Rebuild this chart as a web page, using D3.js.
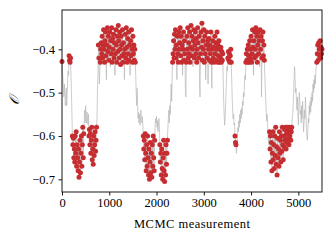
<!DOCTYPE html>
<html>
<head>
<meta charset="utf-8">
<script src="https://cdn.jsdelivr.net/npm/d3@7"></script>
<style>
  body { margin: 0; background: #fff; }
  text { font-family: "Liberation Serif", serif; fill: #000; }
</style>
</head>
<body>
<svg id="chart" width="332" height="240"></svg>
<script>
var sampleStep = 10;
var traceValues = [
  -0.428, -0.45, -0.47, -0.49, -0.51, -0.48, -0.50, -0.53, -0.52, -0.49,
  -0.53, -0.50, -0.47, -0.45, -0.46, -0.415, -0.425, -0.43, -0.42, -0.46,
  -0.50, -0.55, -0.60, -0.62, -0.605, -0.65, -0.63, -0.66, -0.60, -0.64,
  -0.59, -0.67, -0.62, -0.65, -0.68, -0.63, -0.695, -0.66, -0.61, -0.685,
  -0.64, -0.60, -0.67, -0.62, -0.58, -0.65, -0.595, -0.56, -0.54, -0.57,
  -0.53, -0.555, -0.57, -0.545, -0.56, -0.575, -0.55, -0.60, -0.585, -0.62,
  -0.595, -0.64, -0.61, -0.58, -0.655, -0.63, -0.665, -0.60, -0.645, -0.62,
  -0.59, -0.635, -0.61, -0.58, -0.56, -0.50, -0.46, -0.39, -0.42, -0.48,
  -0.45, -0.43, -0.40, -0.385, -0.41, -0.37, -0.42, -0.39, -0.355, -0.40,
  -0.43, -0.38, -0.36, -0.415, -0.47, -0.39, -0.35, -0.405, -0.37, -0.425,
  -0.395, -0.36, -0.44, -0.38, -0.41, -0.35, -0.43, -0.375, -0.40, -0.365,
  -0.42, -0.385, -0.46, -0.41, -0.355, -0.39, -0.43, -0.37, -0.405, -0.345,
  -0.38, -0.42, -0.36, -0.40, -0.435, -0.37, -0.39, -0.415, -0.355, -0.43,
  -0.385, -0.41, -0.47, -0.40, -0.365, -0.42, -0.35, -0.395, -0.43, -0.375,
  -0.41, -0.36, -0.425, -0.39, -0.46, -0.38, -0.415, -0.355, -0.40, -0.43,
  -0.37, -0.41, -0.39, -0.425, -0.40, -0.43, -0.46, -0.50, -0.53, -0.49,
  -0.53, -0.56, -0.545, -0.57, -0.55, -0.575, -0.56, -0.54, -0.565, -0.57,
  -0.555, -0.575, -0.60, -0.63, -0.61, -0.655, -0.595, -0.64, -0.68, -0.62,
  -0.67, -0.60, -0.65, -0.69, -0.63, -0.70, -0.66, -0.615, -0.685, -0.64,
  -0.695, -0.62, -0.67, -0.60, -0.65, -0.68, -0.61, -0.575, -0.56, -0.57,
  -0.555, -0.58, -0.565, -0.59, -0.57, -0.56, -0.575, -0.62, -0.66, -0.64,
  -0.69, -0.63, -0.675, -0.70, -0.65, -0.61, -0.68, -0.705, -0.64, -0.69,
  -0.62, -0.665, -0.64, -0.61, -0.58, -0.56, -0.54, -0.57, -0.53, -0.55,
  -0.51, -0.48, -0.52, -0.46, -0.43, -0.41, -0.38, -0.42, -0.365, -0.40,
  -0.355, -0.42, -0.39, -0.47, -0.37, -0.41, -0.43, -0.36, -0.40, -0.385,
  -0.35, -0.415, -0.37, -0.43, -0.39, -0.46, -0.40, -0.36, -0.425, -0.38,
  -0.41, -0.49, -0.51, -0.43, -0.37, -0.40, -0.35, -0.42, -0.385, -0.41,
  -0.36, -0.43, -0.395, -0.345, -0.415, -0.37, -0.40, -0.44, -0.38, -0.355,
  -0.42, -0.39, -0.36, -0.41, -0.375, -0.43, -0.40, -0.35, -0.385, -0.42,
  -0.37, -0.48, -0.51, -0.41, -0.36, -0.395, -0.34, -0.425, -0.38, -0.40,
  -0.355, -0.43, -0.37, -0.41, -0.47, -0.39, -0.36, -0.42, -0.38, -0.48,
  -0.40, -0.375, -0.425, -0.39, -0.41, -0.36, -0.43, -0.49, -0.40, -0.38,
  -0.42, -0.395, -0.43, -0.37, -0.41, -0.385, -0.425, -0.40, -0.36, -0.43,
  -0.39, -0.415, -0.38, -0.43, -0.40, -0.42, -0.395, -0.43, -0.405, -0.425,
  -0.41, -0.47, -0.52, -0.55, -0.575, -0.56, -0.53, -0.50, -0.47, -0.44,
  -0.45, -0.42, -0.405, -0.425, -0.41, -0.43, -0.415, -0.40, -0.43, -0.47,
  -0.51, -0.54, -0.56, -0.55, -0.575, -0.57, -0.60, -0.615, -0.62, -0.64,
  -0.625, -0.60, -0.58, -0.59, -0.565, -0.58, -0.55, -0.57, -0.54, -0.56,
  -0.535, -0.55, -0.52, -0.53, -0.50, -0.51, -0.48, -0.46, -0.47, -0.43,
  -0.41, -0.425, -0.40, -0.43, -0.39, -0.415, -0.43, -0.38, -0.42, -0.40,
  -0.37, -0.43, -0.41, -0.355, -0.395, -0.46, -0.38, -0.42, -0.36, -0.40,
  -0.35, -0.415, -0.37, -0.43, -0.39, -0.36, -0.41, -0.38, -0.44, -0.355,
  -0.40, -0.37, -0.51, -0.42, -0.38, -0.36, -0.415, -0.39, -0.425, -0.46,
  -0.49, -0.52, -0.54, -0.565, -0.55, -0.575, -0.60, -0.62, -0.61, -0.59,
  -0.63, -0.60, -0.66, -0.615, -0.68, -0.64, -0.59, -0.655, -0.62, -0.675,
  -0.60, -0.645, -0.58, -0.665, -0.625, -0.69, -0.605, -0.65, -0.63, -0.67,
  -0.59, -0.64, -0.61, -0.66, -0.60, -0.635, -0.58, -0.62, -0.655, -0.60,
  -0.625, -0.585, -0.61, -0.58, -0.63, -0.595, -0.615, -0.58, -0.605, -0.59,
  -0.62, -0.58, -0.60, -0.585, -0.61, -0.59, -0.58, -0.56, -0.55, -0.53,
  -0.50, -0.47, -0.44, -0.47, -0.50, -0.49, -0.52, -0.54, -0.51, -0.55,
  -0.575, -0.53, -0.50, -0.52, -0.55, -0.54, -0.57, -0.53, -0.56, -0.52,
  -0.55, -0.59, -0.57, -0.54, -0.56, -0.51, -0.545, -0.58, -0.60, -0.61,
  -0.59, -0.56, -0.57, -0.53, -0.55, -0.52, -0.545, -0.51, -0.53, -0.50,
  -0.52, -0.48, -0.50, -0.47, -0.49, -0.46, -0.48, -0.45, -0.44, -0.43,
  -0.41, -0.39, -0.425, -0.385, -0.40, -0.415, -0.38, -0.42, -0.395, -0.41,
  -0.40
];

// measurement ranges where the chain sits in one of the two states
var stateWindows = [
  [0, 0], [150, 180], [220, 460], [570, 730], [770, 780], [810, 1550],
  [1720, 1960], [2070, 2230], [2340, 3410], [3510, 3580], [3660, 3680],
  [3890, 4280], [4390, 4860], [5390, 5500]
];
var upperCut = -0.44;
var lowerCut = -0.575;

var xTicks = [0, 1000, 2000, 3000, 4000, 5000];
var yTicks = [-0.7, -0.6, -0.5, -0.4];

var svgWidth = 332, svgHeight = 240;
var margin = {top: 10, right: 10, bottom: 48, left: 62};

var svg = d3.select("svg#chart");

var points = traceValues.map(function(v, i){
  var step = i * sampleStep;
  var inState = stateWindows.some(w => step >= w[0] && step <= w[1]);
  return {step: step, value: v, state: inState && (v > upperCut || v < lowerCut)};
});

var x = d3.scaleLinear()
  .domain([0, 5500])
  .range([margin.left, svgWidth - margin.right]);

var y = d3.scaleLinear()
  .domain([-0.7293, -0.3093])
  .range([svgHeight - margin.bottom, margin.top]);

// grey trace
var line = d3.line()
  .x(d => x(d.step))
  .y(d => y(d.value));

svg.append("path")
  .datum(points)
  .attr("d", line)
  .attr("fill", "none")
  .attr("stroke", "#b8b8b8")
  .attr("stroke-width", 0.7);

// red state points
svg.selectAll("circle.state")
  .data(points.filter(d => d.state))
  .enter().append("circle")
  .attr("class", "state")
  .attr("cx", d => x(d.step))
  .attr("cy", d => y(d.value))
  .attr("r", 2.5)
  .attr("fill", "#c62d30");

// frame
svg.append("rect")
  .attr("x", margin.left)
  .attr("y", margin.top)
  .attr("width", svgWidth - margin.left - margin.right)
  .attr("height", svgHeight - margin.top - margin.bottom)
  .attr("fill", "none")
  .attr("stroke", "#000")
  .attr("stroke-width", 0.9);

var xAxis = svg.append("g")
  .attr("transform", "translate(0," + (svgHeight - margin.bottom) + ")")
  .call(d3.axisBottom(x).tickValues(xTicks).tickFormat(d3.format("d")).tickSize(3.5).tickPadding(3));

var yAxis = svg.append("g")
  .attr("transform", "translate(" + margin.left + ",0)")
  .call(d3.axisLeft(y).tickValues(yTicks).tickFormat(d3.format(".1f")).tickSize(3.5).tickPadding(3.5));

[xAxis, yAxis].forEach(function(g){
  g.select(".domain").remove();
  g.selectAll("line").attr("stroke", "#000").attr("stroke-width", 0.9);
  g.selectAll("text")
    .attr("font-family", "Liberation Serif, serif")
    .attr("font-size", 12.5)
    .attr("fill", "#000");
});

svg.append("text")
  .attr("x", (margin.left + svgWidth - margin.right) / 2)
  .attr("y", 228)
  .attr("text-anchor", "middle")
  .attr("font-size", 12.5)
  .attr("textLength", 116)
  .attr("lengthAdjust", "spacing")
  .text("MCMC measurement");

svg.append("text")
  .attr("transform", "translate(19," + 100 + ") rotate(-90)")
  .attr("text-anchor", "middle")
  .attr("font-size", 14)
  .attr("font-style", "italic")
  .text("𝒪");
</script>
</body>
</html>
